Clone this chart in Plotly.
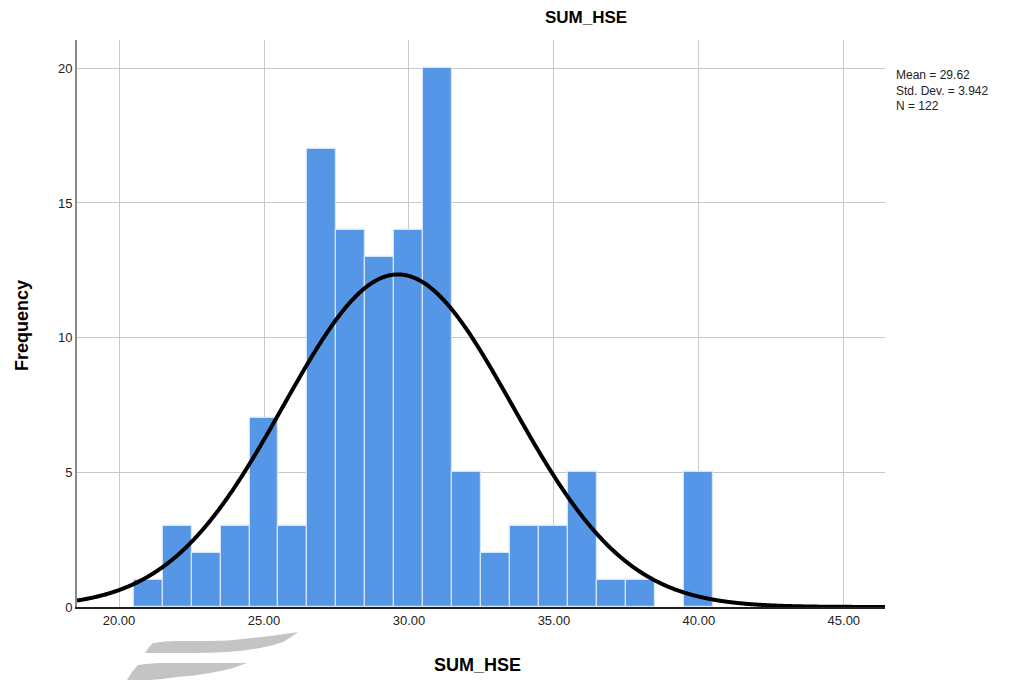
import numpy as np
import plotly.graph_objects as go

# Histogram of SUM_HSE: bin centres (width 1) and frequencies
bin_centers = [21, 22, 23, 24, 25, 26, 27, 28, 29, 30, 31, 32, 33, 34, 35, 36, 37, 38, 39, 40]
frequencies = [1, 3, 2, 3, 7, 3, 17, 14, 13, 14, 20, 5, 2, 3, 3, 5, 1, 1, 0, 5]
bin_width = 1.0

# Summary statistics
mean_val = 29.62
std_val = 3.942
n_val = 122

x_ticks = [20, 25, 30, 35, 40, 45]
x_tick_labels = ["20.00", "25.00", "30.00", "35.00", "40.00", "45.00"]
y_ticks = [0, 5, 10, 15, 20]

x_range = [18.55, 46.42]
y_range = [0, 21.05]

FONT = "Liberation Sans, Arial, sans-serif"

fig = go.Figure()

fig.add_trace(go.Bar(
    x=bin_centers,
    y=[f if f > 0 else None for f in frequencies],
    width=bin_width,
    marker=dict(color="#5596E6", line=dict(color="#D6E6FA", width=1.2)),
    showlegend=False,
    hoverinfo="x+y",
))

# Fitted normal curve scaled to counts
xs = np.linspace(x_range[0], x_range[1], 800)
ys = n_val * bin_width / (std_val * np.sqrt(2 * np.pi)) * np.exp(-0.5 * ((xs - mean_val) / std_val) ** 2)
fig.add_trace(go.Scatter(
    x=xs, y=ys, mode="lines",
    line=dict(color="black", width=4, shape="spline"),
    showlegend=False, hoverinfo="skip",
))

L, R, T, B = 77, 139, 40, 73
W, H = 1024, 680
pw, ph = W - L - R, H - T - B


def px(x):
    return (x - L) / pw


def py(y):
    return (H - B - y) / ph


def path(points):
    d = "M {:.4f},{:.4f}".format(px(points[0][0]), py(points[0][1]))
    for (a, b) in points[1:]:
        d += " L {:.4f},{:.4f}".format(px(a), py(b))
    return d + " Z"


# Gray swoosh marks under the axis
swoosh_color = "#C4C4C4"
upper = path([
    (145, 653), (149, 647), (153, 643), (165, 641.5), (177, 641), (195, 641), (210, 641),
    (228, 640.5), (243, 639), (257, 637.5), (270, 636), (285, 634), (298, 632),
    (291, 637), (283, 642), (272, 645.5), (260, 648), (244, 650.5), (227, 652),
    (210, 652.8), (193, 653), (170, 653), (145, 653),
])
lower = path([
    (127, 680), (132, 672), (138, 665), (148, 663.8), (160, 663), (177, 663), (193, 663),
    (210, 663), (227, 663), (247, 663),
    (240, 665.5), (233, 668), (222, 670.8), (210, 673), (194, 675.5), (177, 677),
    (162, 679), (150, 680), (127, 680),
])

shapes = [
    dict(type="path", path=upper, xref="paper", yref="paper",
         fillcolor=swoosh_color, line=dict(width=0), layer="above"),
    dict(type="path", path=lower, xref="paper", yref="paper",
         fillcolor=swoosh_color, line=dict(width=0), layer="above"),
]

fig.update_layout(
    width=W, height=H,
    margin=dict(l=L, r=R, t=T, b=B, pad=0),
    paper_bgcolor="white",
    plot_bgcolor="white",
    bargap=0,
    font=dict(family=FONT, color="#222222", size=12),
    shapes=shapes,
    annotations=[
        dict(text="<b>SUM_HSE</b>", x=px(586), y=py(18), xref="paper", yref="paper",
             yanchor="middle", xanchor="center", showarrow=False,
             font=dict(size=17, color="black", family=FONT)),
        dict(text="<b>SUM_HSE</b>", x=px(477), y=py(665), xref="paper", yref="paper",
             yanchor="middle", xanchor="center", showarrow=False,
             font=dict(size=18, color="black", family=FONT)),
        dict(text="<b>Frequency</b>", x=px(22), y=py(325), xref="paper", yref="paper",
             yanchor="middle", xanchor="center", showarrow=False, textangle=-90,
             font=dict(size=18, color="black", family=FONT)),
        dict(text="Mean = {:.2f}<br>Std. Dev. = {:.3f}<br>N = {}".format(mean_val, std_val, n_val),
             x=px(894), y=py(66), xref="paper", yref="paper", xanchor="left", yanchor="top",
             align="left", showarrow=False,
             font=dict(size=12, color="#222222", family=FONT)),
    ],
    xaxis=dict(
        range=x_range, tickvals=x_ticks, ticktext=x_tick_labels,
        showgrid=True, gridcolor="#C8C8C8", gridwidth=1,
        showline=True, linecolor="#222222", linewidth=2,
        ticks="", zeroline=False, automargin=False,
        tickfont=dict(size=13, color="#222222", family=FONT),
    ),
    yaxis=dict(
        range=y_range, tickvals=y_ticks,
        showgrid=True, gridcolor="#C8C8C8", gridwidth=1,
        showline=True, linecolor="#888888", linewidth=2,
        ticks="", zeroline=False, automargin=False,
        tickfont=dict(size=13, color="#222222", family=FONT),
    ),
)

fig.write_html("out.html")
